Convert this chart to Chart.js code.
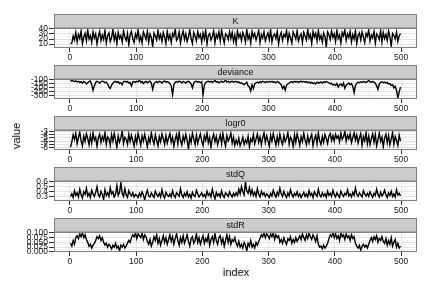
<!DOCTYPE html>
<html>
<head>
<meta charset="utf-8">
<script src="https://cdn.jsdelivr.net/npm/chart.js@4.4.1/dist/chart.umd.min.js"></script>
<style>
  body { margin: 0; background: #fff; }
  #wrap { position: relative; width: 432px; height: 288px; font-family: "Liberation Sans", Arial, sans-serif; }
  .panel { position: absolute; left: 0; width: 432px; height: 47px; }
  #ylab { position: absolute; left: 16px; top: 136px; transform: translate(-50%, -50%) rotate(-90deg); font-size: 11px; color: #000; }
  #xlab { position: absolute; left: 236px; top: 272px; transform: translate(-50%, -50%) rotate(0.01deg); will-change: transform; font-size: 11px; color: #000; }
</style>
</head>
<body>
<div id="wrap">
  <div class="panel" style="top:14px"><canvas id="p1"></canvas></div>
  <div class="panel" style="top:65px"><canvas id="p2"></canvas></div>
  <div class="panel" style="top:116px"><canvas id="p3"></canvas></div>
  <div class="panel" style="top:167px"><canvas id="p4"></canvas></div>
  <div class="panel" style="top:218px"><canvas id="p5"></canvas></div>
  <div id="ylab">value</div>
  <div id="xlab">index</div>
</div>
<script>
// ============================
// DATA (one value per 2 iterations, index 1,3,5,...,499)
// ============================
const K = [
  11,12,26,18,33,14,29,21,36,11,24,31,16,38,20,27,13,34,22,30,10,25,35,17,28,
  19,37,12,26,32,15,23,39,18,29,11,33,21,27,14,36,24,17,31,9,28,35,20,13,30,
  22,38,16,25,12,34,27,19,36,14,30,23,5,32,26,18,37,21,29,15,33,24,11,35,20,
  28,13,31,25,40,17,22,34,12,27,36,19,30,15,24,38,21,11,33,26,16,35,23,29,14,
  32,20,37,10,27,31,18,25,36,13,29,22,34,16,38,24,12,30,27,19,35,21,33,15,28,
  11,36,23,30,17,33,26,14,39,20,28,12,35,24,31,18,27,37,13,29,22,34,16,25,32,
  19,38,14,27,30,21,35,10,26,33,17,29,24,37,15,31,22,12,34,28,20,36,16,25,30,
  13,33,26,18,39,22,29,11,35,24,31,16,37,20,27,14,32,25,4,34,28,19,36,23,30,
  15,37,21,28,12,33,26,38,17,30,23,35,14,29,20,36,11,27,32,18,34,24,13,31,25,
  38,16,28,22,35,12,30,26,19,37,14,33,21,29,17,36,24,6,31,27,20,34,15,26,31
];
const deviance = [
  -118,-102,-115,-120,-110,-125,-116,-130,-122,-140,-118,-128,-150,-135,-120,-113,-160,-232,-175,-130,-118,-126,-140,-122,-115,
  -120,-135,-128,-150,-190,-207,-165,-140,-125,-118,-130,-122,-145,-135,-160,-120,-115,-128,-118,-140,-132,-175,-126,-119,-130,
  -116,-124,-99,-130,-120,-145,-126,-118,-135,-122,-115,-140,-220,-150,-128,-120,-132,-117,-125,-138,-121,-114,-127,-119,-133,
  -145,-175,-287,-160,-130,-120,-128,-115,-124,-136,-118,-126,-140,-122,-117,-130,-150,-200,-138,-121,-115,-127,-119,-134,-122,
  -287,-165,-132,-120,-116,-125,-118,-130,-121,-105,-127,-119,-135,-123,-117,-128,-120,-100,-126,-118,-132,-122,-116,-129,-121,
  -118,-130,-124,-140,-135,-150,-160,-145,-128,-175,-190,-240,-160,-210,-150,-135,-126,-140,-122,-130,-118,-125,-132,-121,-127,
  -119,-126,-116,-130,-122,-135,-120,-128,-145,-160,-210,-180,-230,-165,-150,-138,-128,-120,-132,-117,-125,-119,-130,-122,-116,
  -124,-118,-128,-121,-133,-126,-140,-130,-145,-135,-150,-128,-140,-132,-126,-138,-122,-130,-119,-127,-135,-150,-140,-165,-155,
  -170,-145,-190,-160,-150,-175,-140,-205,-165,-150,-138,-160,-145,-180,-260,-170,-140,-128,-135,-122,-130,-119,-126,-132,-121,
  -104,-125,-130,-120,-128,-140,-175,-220,-150,-130,-122,-135,-126,-140,-130,-150,-145,-170,-160,-200,-180,-230,-330,-250,-190
];
const logr0 = [
  -7.8,-6.2,-4.1,-5.5,-3.6,-6.8,-4.9,-3.3,-5.9,-7.4,-4.5,-6.1,-3.8,-5.2,-7.1,-4.3,-6.6,-3.5,-5.7,-4.8,-7.6,-5.0,-3.9,-6.4,-4.6,
  -5.8,-3.4,-6.9,-4.7,-5.3,-7.3,-4.0,-6.0,-3.7,-5.6,-7.9,-4.4,-6.3,-5.1,-2.9,-6.7,-4.8,-5.4,-7.0,-3.9,-6.1,-4.2,-5.9,-7.5,-4.6,
  -6.5,-3.6,-5.3,-7.2,-4.4,-6.0,-3.9,-5.7,-7.7,-4.9,-6.4,-3.5,-5.5,-6.9,-4.1,-5.8,-7.4,-4.6,-6.2,-3.8,-5.2,-7.0,-4.3,-6.6,-5.0,
  -3.7,-6.3,-4.8,-7.6,-5.4,-4.0,-6.8,-3.4,-5.9,-7.2,-4.5,-6.1,-3.9,-5.6,-8.4,-4.7,-6.4,-3.6,-5.3,-7.0,-4.2,-6.7,-5.1,-3.8,-6.0,
  -7.3,-4.4,-5.8,-3.5,-6.5,-4.9,-7.8,-5.2,-3.9,-6.2,-4.6,-7.1,-5.5,-4.1,-6.8,-3.7,-5.9,-7.5,-4.3,-6.0,-5.0,-3.6,-6.6,-4.8,-7.2,
  -5.7,-6.9,-5.1,-7.4,-6.3,-4.8,-7.0,-5.6,-6.6,-4.5,-7.7,-5.3,-6.1,-4.0,-6.8,-5.4,-3.8,-6.3,-4.7,-7.1,-5.0,-3.5,-6.4,-4.4,-5.9,
  -7.5,-4.2,-6.0,-3.7,-5.5,-7.2,-4.6,-6.7,-3.9,-5.8,-7.0,-4.3,-6.2,-5.1,-3.4,-6.9,-4.8,-5.6,-7.6,-4.1,-6.4,-3.8,-5.3,-7.3,-4.7,
  -6.1,-3.6,-5.7,-7.1,-4.4,-6.5,-5.0,-3.9,-7.4,-5.4,-4.2,-6.8,-3.5,-5.9,-7.0,-4.6,-6.3,-4.0,-5.2,-6.7,-4.5,-3.7,-5.8,-4.3,-6.0,
  -3.9,-5.1,-4.4,-6.2,-3.6,-5.5,-4.7,-3.0,-6.0,-4.2,-5.3,-3.8,-6.4,-4.9,-3.5,-5.7,-4.1,-6.6,-5.0,-3.7,-7.2,-4.6,-5.9,-3.4,-6.8,
  -4.5,-7.0,-5.2,-3.8,-6.3,-4.0,-7.4,-5.6,-3.6,-6.1,-4.8,-7.7,-5.0,-3.9,-6.5,-4.3,-7.1,-5.4,-3.5,-6.9,-4.6,-5.8,-7.3,-4.2,-6.0
];
const stdQ = [
  0.31,0.36,0.29,0.42,0.33,0.38,0.30,0.45,0.34,0.28,0.40,0.35,0.47,0.32,0.37,0.29,0.43,0.36,0.31,0.39,0.50,0.34,0.30,0.41,0.35,
  0.25,0.44,0.33,0.38,0.31,0.48,0.36,0.40,0.30,0.35,0.52,0.33,0.39,0.58,0.37,0.31,0.46,0.34,0.29,0.42,0.36,0.32,0.38,0.30,0.35,
  0.33,0.29,0.37,0.31,0.40,0.34,0.24,0.36,0.43,0.32,0.30,0.38,0.33,0.29,0.41,0.35,0.31,0.37,0.30,0.44,0.33,0.28,0.39,0.34,0.31,
  0.36,0.30,0.42,0.33,0.29,0.38,0.35,0.31,0.46,0.34,0.29,0.37,0.32,0.40,0.30,0.35,0.28,0.39,0.33,0.31,0.43,0.36,0.30,0.34,0.38,
  0.31,0.35,0.29,0.41,0.33,0.37,0.30,0.45,0.34,0.26,0.39,0.32,0.36,0.30,0.42,0.33,0.29,0.38,0.35,0.31,0.40,0.34,0.30,0.37,0.32,
  0.38,0.33,0.45,0.36,0.50,0.40,0.34,0.59,0.42,0.37,0.48,0.35,0.44,0.33,0.39,0.31,0.46,0.35,0.30,0.41,0.34,0.38,0.31,0.36,0.33,
  0.29,0.37,0.32,0.43,0.35,0.30,0.39,0.33,0.47,0.36,0.31,0.41,0.34,0.29,0.38,0.32,0.44,0.35,0.30,0.37,0.33,0.40,0.31,0.36,0.29,
  0.34,0.39,0.31,0.36,0.30,0.42,0.33,0.37,0.29,0.40,0.35,0.31,0.45,0.34,0.30,0.38,0.32,0.36,0.29,0.41,0.33,0.37,0.31,0.43,0.35,
  0.30,0.38,0.33,0.29,0.41,0.35,0.31,0.37,0.34,0.44,0.32,0.36,0.30,0.39,0.33,0.47,0.35,0.31,0.38,0.34,0.30,0.42,0.36,0.32,0.37,
  0.31,0.40,0.34,0.29,0.37,0.33,0.45,0.35,0.30,0.39,0.32,0.36,0.43,0.34,0.29,0.38,0.33,0.41,0.31,0.36,0.30,0.44,0.34,0.37,0.32
];
const stdR = [
  0.045,0.030,0.060,0.040,0.075,0.085,0.070,0.095,0.080,0.100,0.075,0.090,0.065,0.050,0.030,0.040,0.020,0.035,0.045,0.060,0.080,0.070,0.085,0.060,0.075,
  0.050,0.035,0.045,0.025,0.040,0.030,0.015,0.035,0.025,0.045,0.020,0.030,0.005,0.035,0.025,0.040,0.020,0.030,0.045,0.060,0.050,0.075,0.090,0.080,0.100,
  0.070,0.095,0.085,0.075,0.100,0.065,0.090,0.080,0.055,0.040,0.065,0.030,0.050,0.080,0.060,0.090,0.045,0.070,0.035,0.060,0.085,0.050,0.075,0.040,0.065,
  0.090,0.055,0.080,0.040,0.070,0.095,0.060,0.035,0.075,0.050,0.085,0.045,0.065,0.090,0.055,0.030,0.070,0.080,0.045,0.060,0.095,0.050,0.075,0.040,0.065,
  0.085,0.045,0.070,0.055,0.090,0.035,0.065,0.080,0.050,0.095,0.060,0.040,0.075,0.085,0.045,0.070,0.030,0.060,0.090,0.050,0.080,0.040,0.065,0.055,0.075,
  0.045,0.030,0.055,0.025,0.040,0.020,0.050,0.035,0.004,0.045,0.030,0.060,0.025,0.040,0.020,0.050,0.035,0.055,0.070,0.090,0.080,0.100,0.075,0.095,0.085,
  0.070,0.095,0.080,0.100,0.065,0.090,0.075,0.085,0.050,0.065,0.045,0.075,0.055,0.040,0.070,0.060,0.080,0.045,0.065,0.050,0.075,0.055,0.070,0.085,0.065,
  0.095,0.075,0.060,0.090,0.070,0.100,0.080,0.065,0.090,0.075,0.055,0.085,0.040,0.025,0.030,0.015,0.035,0.020,0.030,0.045,0.070,0.090,0.080,0.100,0.075,
  0.095,0.070,0.085,0.060,0.100,0.080,0.090,0.065,0.095,0.075,0.085,0.060,0.090,0.070,0.080,0.045,0.030,0.020,0.035,0.008,0.030,0.040,0.025,0.035,0.020,
  0.040,0.060,0.075,0.055,0.080,0.065,0.085,0.050,0.070,0.060,0.080,0.055,0.045,0.070,0.035,0.060,0.040,0.075,0.030,0.050,0.065,0.025,0.045,0.020,0.030
];

// tick values + labels
const xTicks = [0, 100, 200, 300, 400, 500];
const kTicks = [10, 20, 30, 40];
const devTicks = [-300, -250, -200, -150, -100];
const logr0Ticks = [-8, -7, -6, -5, -4, -3];
const stdQTicks = [0.3, 0.4, 0.5, 0.6];
const stdRTicks = [0, 0.025, 0.05, 0.075, 0.1];
const stdRLabels = ["0.000", "0.025", "0.050", "0.075", "0.100"];

const index = K.map((_, i) => 1 + 2 * i);

Chart.defaults.font.family = "'Liberation Sans', Arial, sans-serif";
Chart.defaults.color = "#222";

// gray strip on top + panel border (ggplot-ish)
const panelDeco = {
  id: "panelDeco",
  afterDraw(chart, args, opts) {
    const { ctx, chartArea: a } = chart;
    ctx.save();
    ctx.fillStyle = "#cccccc";
    ctx.fillRect(a.left, a.top - 14, a.right - a.left, 14);
    ctx.strokeStyle = "#808080";
    ctx.lineWidth = 1;
    ctx.strokeRect(a.left + 0.5, a.top - 13.5, a.right - a.left - 1, 13.5);
    ctx.strokeRect(a.left + 0.5, a.top + 0.5, a.right - a.left - 1, a.bottom - a.top - 1);
    ctx.fillStyle = "#111";
    ctx.font = "9px 'Liberation Sans', Arial, sans-serif";
    ctx.textAlign = "center";
    ctx.textBaseline = "middle";
    ctx.fillText(opts.title, (a.left + a.right) / 2, a.top - 6.5);
    ctx.restore();
  }
};

// majors + half-step minors, only those inside the scale
function withMinors(major, s) {
  const out = [];
  const step = major[1] - major[0];
  out.push({ value: major[0] - step / 2, minor: true });
  major.forEach(v => {
    out.push({ value: v });
    out.push({ value: v + step / 2, minor: true });
  });
  return out.filter(t => t.value >= s.min && t.value <= s.max);
}

function makePanel(id, title, values, ticks, labels) {
  const lo = Math.min(...values), hi = Math.max(...values);
  const pad = (hi - lo) * 0.05;
  const xlo = index[0], xhi = index[index.length - 1];
  const xpad = (xhi - xlo) * 0.05;

  new Chart(document.getElementById(id), {
    type: "line",
    data: {
      datasets: [{
        data: values.map((v, i) => ({ x: index[i], y: v })),
        borderColor: "#000",
        borderWidth: 1.4,
        pointRadius: 0,
        tension: 0
      }]
    },
    plugins: [panelDeco],
    options: {
      responsive: false,
      animation: false,
      maintainAspectRatio: false,
      layout: { padding: { left: 0, right: 15, top: 14, bottom: 0 } },
      plugins: { legend: { display: false }, tooltip: { enabled: false }, panelDeco: { title } },
      scales: {
        x: {
          type: "linear",
          min: xlo - xpad,
          max: xhi + xpad,
          afterBuildTicks: s => { s.ticks = withMinors(xTicks, s); },
          afterFit: s => { s.height = 13; },
          border: { display: false },
          grid: {
            color: c => c.tick && c.tick.minor ? "#f4f4f4" : "#e3e3e3",
            tickColor: c => c.tick && c.tick.minor ? "rgba(0,0,0,0)" : "#333",
            tickLength: 4
          },
          ticks: {
            autoSkip: false, maxRotation: 0, padding: 1,
            font: { size: 8.5 },
            callback: (v) => xTicks.includes(v) ? String(v) : ""
          }
        },
        y: {
          min: lo - pad,
          max: hi + pad,
          afterBuildTicks: s => { s.ticks = withMinors(ticks, s); },
          afterFit: s => { s.width = 54; },
          border: { display: false },
          grid: {
            color: c => c.tick && c.tick.minor ? "#f4f4f4" : "#e3e3e3",
            tickColor: c => c.tick && c.tick.minor ? "rgba(0,0,0,0)" : "#333",
            tickLength: 5
          },
          ticks: {
            autoSkip: false, padding: 1,
            font: { size: 8.5 },
            callback: (v) => {
              const k = ticks.findIndex(t => Math.abs(t - v) < 1e-9);
              return k < 0 ? "" : (labels ? labels[k] : String(v));
            }
          }
        }
      }
    }
  });
}

document.querySelectorAll("canvas").forEach(c => { c.width = 432; c.height = 47; });

makePanel("p1", "K", K, kTicks);
makePanel("p2", "deviance", deviance, devTicks);
makePanel("p3", "logr0", logr0, logr0Ticks);
makePanel("p4", "stdQ", stdQ, stdQTicks);
makePanel("p5", "stdR", stdR, stdRTicks, stdRLabels);
</script>
</body>
</html>
